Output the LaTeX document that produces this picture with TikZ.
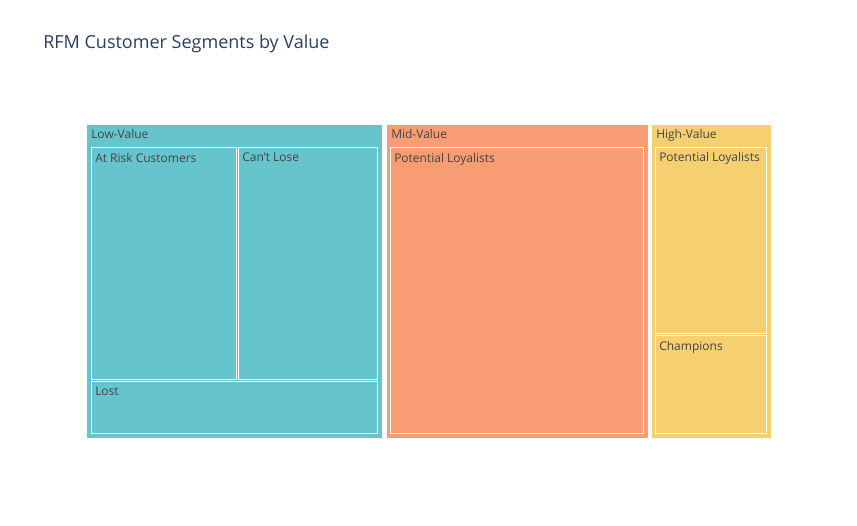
\documentclass[tikz,border=0pt]{standalone}
\usepackage{fontspec}
\setmainfont{Open Sans}
\definecolor{teal}{HTML}{66C5CC}
\definecolor{salmon}{HTML}{F89C74}
\definecolor{gold}{HTML}{F6CF71}
\definecolor{titlec}{HTML}{2A3F5F}
\definecolor{labc}{HTML}{444444}
\begin{document}
\begin{tikzpicture}[x=0.75pt,y=-0.75pt,
  box/.style={draw=white,line width=0.6pt,inner sep=0pt},
  lab/.style={anchor=north west,inner sep=0pt,font=\fontsize{9}{10}\selectfont,text=labc}]
\useasboundingbox[fill=white] (0,0) rectangle (857,525);
\node[anchor=west,text=titlec,font=\fontsize{13.5}{15}\selectfont,inner sep=0pt] (title) at (43,44) {RFM Customer Segments by Value};
\newcommand\bx[6]{\filldraw[box,fill=#6] (#2,#3) rectangle (#4,#5) coordinate (#1);
  \coordinate (#1nw) at (#2,#3);}
% outer
\bx{low}{86}{124}{382}{438}{teal}
\bx{mid}{386}{124}{648}{438}{salmon}
\bx{high}{651}{124}{771}{438}{gold}
\bx{risk}{91}{147}{236}{379}{teal}
\bx{cant}{238}{147}{377}{379}{teal}
\bx{lost}{91}{381}{377}{433}{teal}
\bx{pl}{390}{147}{643}{433}{salmon}
\bx{hpl}{655}{147}{766}{333}{gold}
\bx{champ}{655}{335}{766}{433}{gold}
\node[lab] (tlow) at ([shift={(5,5)}]lownw) {Low-Value};
\node[lab] (tmid) at ([shift={(5,5)}]midnw) {Mid-Value};
\node[lab] (thigh) at ([shift={(5,5)}]highnw) {High-Value};
\node[lab] (trisk) at ([shift={(4,6)}]risknw) {At Risk Customers};
\node[lab] (tcant) at ([shift={(4,6)}]cantnw) {Can't Lose};
\node[lab] (tlost) at ([shift={(4,6)}]lostnw) {Lost};
\node[lab] (tpl) at ([shift={(4,6)}]plnw) {Potential Loyalists};
\node[lab] (thpl) at ([shift={(4,5)}]hplnw) {Potential Loyalists};
\node[lab] (tchamp) at ([shift={(4,6)}]champnw) {Champions};
\end{tikzpicture}
\end{document}
